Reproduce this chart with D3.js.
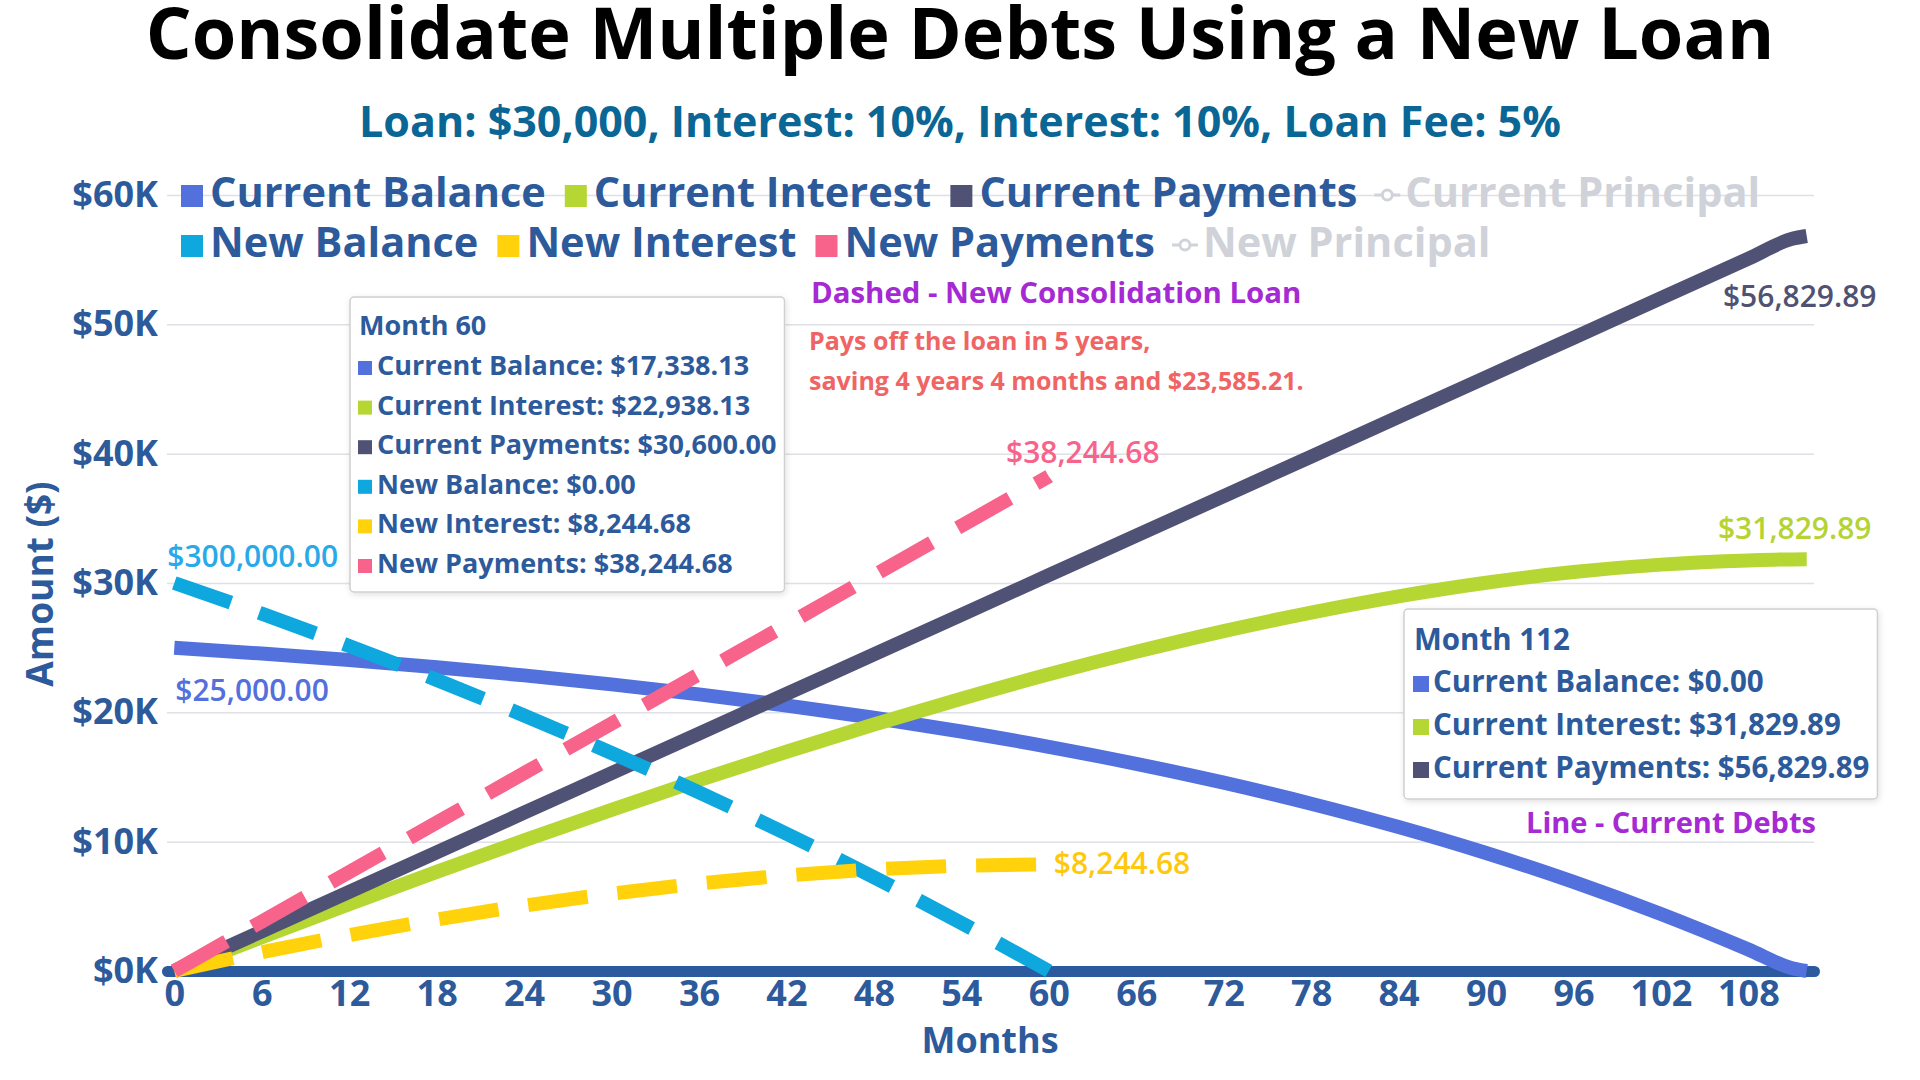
<!DOCTYPE html>
<html>
<head>
<meta charset="utf-8">
<script src="https://cdn.jsdelivr.net/npm/d3@7"></script>
<style>
  body { margin: 0; background: #fff; }
  svg { display: block; font-family: 'Open Sans', 'Noto Sans', sans-serif; }
</style>
</head>
<body>
<svg id="chart" width="1920" height="1080"></svg>
<script>
// current debts, month by month
var curMonths = [0, 6, 12, 18, 24, 30, 36, 42, 48, 54, 60, 66, 72, 78, 84, 90, 96, 102, 108, 111, 112];
var curBalance = [25000, 24546, 24042, 23481, 22856, 22162, 21390, 20532, 19577, 18515, 17338.13,
    16021, 14561, 12936, 11130, 9121, 6886, 4401, 1660, 216, 0];
var curInterest = [0, 2606, 5162, 7661, 10096, 12462, 14750, 16952, 19057, 21055, 22938.13,
    24681, 26281, 27716, 28970, 30021, 30846, 31421, 31740, 31826, 31829.89];
var curPayments = [0, 3060, 6120, 9180, 12240, 15300, 18360, 21420, 24480, 27540, 30600,
    33660, 36720, 39780, 42840, 45900, 48960, 52020, 55080, 56610, 56829.89];

// new consolidation loan
var newMonths = [0, 6, 12, 18, 24, 30, 36, 42, 48, 54, 60];
var newBalance = [30000, 27627, 25132, 22510, 19754, 16858, 13813, 10613, 7250, 3715, 0];
var newInterest = [0, 1451, 2781, 3983, 5052, 5980, 6760, 7385, 7846, 8136, 8244.68];
var newPayments = [0, 3824, 7649, 11473, 15298, 19122, 22947, 26771, 30596, 34420, 38244.68];

var xTicks = [0, 6, 12, 18, 24, 30, 36, 42, 48, 54, 60, 66, 72, 78, 84, 90, 96, 102, 108];
var yTicks = [0, 10000, 20000, 30000, 40000, 50000, 60000];

var legendRow1 = ["Current Balance", "Current Interest", "Current Payments", "Current Principal"];
var legendRow2 = ["New Balance", "New Interest", "New Payments", "New Principal"];
var hiddenSeries = ["Current Principal", "New Principal"];

var titleText = "Consolidate Multiple Debts Using a New Loan";
var subtitleText = "Loan: $30,000, Interest: 10%, Interest: 10%, Loan Fee: 5%";

var SX = 1;
var axisColor = "#2d5a9b";
var fmt = d3.format("$,.2f");

var colors = {
    "Current Balance": "#5271dc",
    "Current Interest": "#b6d634",
    "Current Payments": "#4f5274",
    "New Balance": "#0ea7de",
    "New Interest": "#ffd20b",
    "New Payments": "#f8638c"
};

var seriesList = [
    { name: "Current Balance", months: curMonths, values: curBalance, dashed: false },
    { name: "Current Interest", months: curMonths, values: curInterest, dashed: false },
    { name: "Current Payments", months: curMonths, values: curPayments, dashed: false },
    { name: "New Balance", months: newMonths, values: newBalance, dashed: true },
    { name: "New Interest", months: newMonths, values: newInterest, dashed: true },
    { name: "New Payments", months: newMonths, values: newPayments, dashed: true }
];

var svg = d3.select("#chart");

function label(g, x, y, str, size, weight, color, anchor) {
    return g.append("text")
        .attr("transform", "translate(" + x + "," + y + ") scale(" + SX + ",1)")
        .attr("text-anchor", anchor || "start")
        .style("font-size", size + "px")
        .style("font-weight", weight)
        .style("fill", color)
        .text(str);
}
function textWidth(t) { return t.node().getComputedTextLength() * SX; }

var xScale = d3.scaleLinear().domain([-0.5, 112.5]).range([167, 1814]);
var yScale = d3.scaleLinear().domain([0, 60000]).range([971, 195]);

// grid
svg.append("g")
    .attr("transform", "translate(167,0)")
    .call(d3.axisLeft(yScale).tickValues(yTicks).tickSize(-(1814 - 167)).tickFormat(""))
    .call(function (g) { g.select(".domain").remove(); })
    .selectAll("line").attr("stroke", "#e0e0e7").attr("stroke-width", 1.5);

// y axis labels
var yAxis = svg.append("g")
    .attr("transform", "translate(167,0)")
    .call(d3.axisLeft(yScale).tickValues(yTicks).tickSize(0).tickPadding(9)
        .tickFormat(function (d) { return "$" + d / 1000 + "K"; }));
yAxis.select(".domain").remove();
yAxis.selectAll("text")
    .style("font-family", "'Open Sans', 'Noto Sans', sans-serif")
    .style("font-size", "36px").style("font-weight", 700).style("fill", axisColor);

// x axis
var xAxis = svg.append("g")
    .attr("transform", "translate(0," + yScale(0) + ")")
    .call(d3.axisBottom(xScale).tickValues(xTicks).tickSize(0).tickPadding(9).tickSizeOuter(0));
xAxis.select(".domain")
    .attr("stroke", "#2b5a9e").attr("stroke-width", 11).attr("stroke-linecap", "round");
xAxis.selectAll("text")
    .style("font-family", "'Open Sans', 'Noto Sans', sans-serif")
    .style("font-size", "36px").style("font-weight", 700).style("fill", axisColor);

label(svg, 990, 1053, "Months", 36, 700, axisColor, "middle");
svg.append("text")
    .attr("transform", "translate(53,584) rotate(-90) scale(" + SX + ",1)")
    .attr("text-anchor", "middle")
    .style("font-size", "37px").style("font-weight", 700).style("fill", axisColor)
    .text("Amount ($)");

// lines
var line = d3.line()
    .x(function (d) { return xScale(d[0]); })
    .y(function (d) { return yScale(d[1]); })
    .curve(d3.curveMonotoneX);

seriesList.forEach(function (s) {
    svg.append("path")
        .datum(d3.zip(s.months, s.values))
        .attr("d", line)
        .attr("fill", "none")
        .attr("stroke", colors[s.name])
        .attr("stroke-width", 14)
        .attr("stroke-linejoin", "round")
        .attr("stroke-dasharray", s.dashed ? "60,30" : null);
});

// point labels
function px(m) { return xScale(m); }
function py(v) { return yScale(v); }
var nLast = newMonths.length - 1, cLast = curMonths.length - 1;
label(svg, px(newMonths[0]) - 7, py(newBalance[0]) - 16, "$300,000.00", 30, 600, "#2aa9e8");
label(svg, px(curMonths[0]) + 1, py(curBalance[0]) + 53, fmt(curBalance[0]), 30, 600, "#5470dc");
label(svg, px(newMonths[nLast]) + 34, py(newPayments[nLast]) - 13, fmt(newPayments[nLast]), 30, 600, "#f8638c", "middle");
label(svg, px(newMonths[nLast]) + 5, py(newInterest[nLast]) + 10, fmt(newInterest[nLast]), 30, 600, "#ffc80c");
label(svg, px(curMonths[cLast]) - 7, py(curPayments[cLast]) + 71, fmt(curPayments[cLast]), 30, 600, "#4f5273", "middle");
label(svg, px(curMonths[cLast]) - 12, py(curInterest[cLast]) - 20, fmt(curInterest[cLast]), 30, 600, "#b5d334", "middle");

// annotations
label(svg, 811, 303, "Dashed - New Consolidation Loan", 29.4, 700, "#a52ad3");
label(svg, 809, 350, "Pays off the loan in 5 years,", 25, 700, "#f06464");
label(svg, 809, 390, "saving 4 years 4 months and $23,585.21.", 25, 700, "#f06464");
label(svg, 1526, 833, "Line - Current Debts", 29, 700, "#a52ad3");

// title
label(svg, 960, 59, titleText, 72, 700, "#000", "middle");
label(svg, 960, 137, subtitleText, 43, 700, "#0a6694", "middle");

// legend
function drawLegendRow(names, base) {
    var xPos = 179;
    names.forEach(function (name) {
        var hidden = hiddenSeries.indexOf(name) >= 0;
        if (hidden) {
            var c = "#d0d3d9";
            svg.append("line").attr("x1", xPos).attr("x2", xPos + 26)
                .attr("y1", base - 12).attr("y2", base - 12)
                .attr("stroke", c).attr("stroke-width", 3);
            svg.append("circle").attr("cx", xPos + 13).attr("cy", base - 12).attr("r", 5)
                .attr("fill", "#fff").attr("stroke", c).attr("stroke-width", 3);
        } else {
            svg.append("rect").attr("x", xPos + 2).attr("y", base - 22)
                .attr("width", 22).attr("height", 22).attr("fill", colors[name]);
        }
        var t = label(svg, xPos + 31, base, name, 41.5, 700, hidden ? "#cfd2d8" : axisColor);
        xPos = xPos + 31 + textWidth(t) + 17;
    });
}
drawLegendRow(legendRow1, 207);
drawLegendRow(legendRow2, 257);

// tooltip boxes
var defs = svg.append("defs");
var shadow = defs.append("filter").attr("id", "tipShadow")
    .attr("x", "-10%").attr("y", "-10%").attr("width", "120%").attr("height", "120%");
shadow.append("feDropShadow").attr("dx", 1).attr("dy", 2).attr("stdDeviation", 3)
    .attr("flood-color", "#000").attr("flood-opacity", 0.12);

function drawTip(bx, by, bh, month, names, fs, titleBase, firstBase, lineH, sq, sqX, txtX) {
    var g = svg.append("g");
    var box = g.append("rect").attr("x", bx).attr("y", by).attr("height", bh)
        .attr("rx", 4).attr("fill", "#fff").attr("stroke", "#cfcfcf").attr("stroke-width", 1.5)
        .attr("filter", "url(#tipShadow)");
    var maxRight = 0;
    var t = label(g, bx + sqX + 1, by + titleBase, "Month " + month, fs, 700, axisColor);
    maxRight = Math.max(maxRight, bx + sqX + 1 + textWidth(t));
    names.forEach(function (name, i) {
        var s = seriesList.filter(function (d) { return d.name === name; })[0];
        var idx = s.months.indexOf(month);
        var v = idx >= 0 ? s.values[idx] : s.values[s.values.length - 1];
        var base = by + firstBase + i * lineH;
        g.append("rect").attr("x", bx + sqX).attr("y", base - sq)
            .attr("width", sq).attr("height", sq).attr("fill", colors[name]);
        var tt = label(g, bx + txtX, base, name + ": " + fmt(v), fs, 700, axisColor);
        maxRight = Math.max(maxRight, bx + txtX + textWidth(tt));
    });
    box.attr("width", maxRight + 8 - bx);
}
drawTip(350, 297, 295, 60,
    ["Current Balance", "Current Interest", "Current Payments", "New Balance", "New Interest", "New Payments"],
    27, 38, 78, 39.6, 14, 8, 27);
drawTip(1404, 609, 190, 112,
    ["Current Balance", "Current Interest", "Current Payments"],
    29.5, 41, 83, 43, 16, 9, 29);
</script>
</body>
</html>
